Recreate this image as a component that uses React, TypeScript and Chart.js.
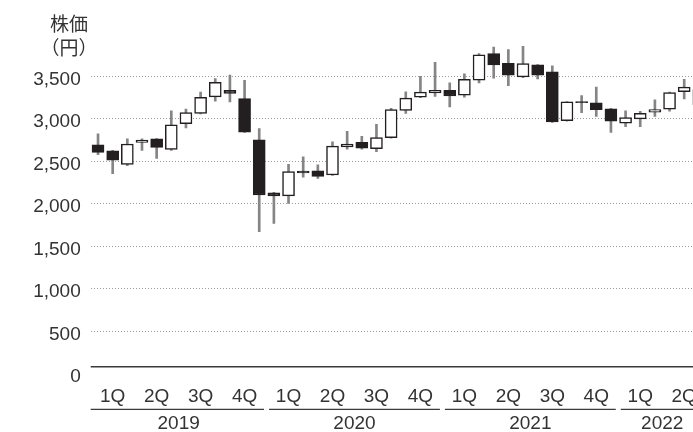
import React, { useEffect, useRef } from "react";
import { Chart, registerables } from "chart.js";

Chart.register(...registerables);

// ---- data (monthly, Jan 2019 – Jun 2022) ----
const years = ["2019", "2020", "2021", "2022"];
const quarterLabels = ["1Q", "2Q", "3Q", "4Q"];
const yTickValues = [0, 500, 1000, 1500, 2000, 2500, 3000, 3500];
const axisTitle = ["株価", "（円）"];

const openPrices = [
  2690, 2620, 2460, 2720, 2760, 2635, 2940, 3060, 3255, 3330, 3235, 2750,
  2125, 2090, 2380, 2385, 2335, 2665, 2720, 2645, 2775, 3095, 3250, 3300,
  3330, 3275, 3450, 3765, 3650, 3490, 3630, 3550, 2975, 3200, 3185, 3115,
  2945, 2995, 3075, 3110, 3315, 3340,
];
const highPrices = [
  2820, 2625, 2760, 2760, 2765, 3090, 3110, 3310, 3470, 3510, 3450, 2880,
  2130, 2460, 2550, 2455, 2725, 2850, 2790, 2930, 3120, 3315, 3495, 3660,
  3420, 3525, 3765, 3840, 3810, 3850, 3635, 3620, 3200, 3270, 3370, 3120,
  3090, 3085, 3220, 3310, 3460, 3400,
];
const lowPrices = [
  2575, 2350, 2445, 2625, 2530, 2625, 2890, 3055, 3205, 3195, 2835, 1670,
  1765, 2000, 2310, 2295, 2330, 2640, 2640, 2610, 2770, 3060, 3245, 3260,
  3135, 3250, 3420, 3475, 3385, 3480, 3465, 2955, 2970, 3070, 3025, 2835,
  2905, 2905, 3025, 3085, 3230, 3120,
];
const closePrices = [
  2600, 2510, 2700, 2745, 2660, 2925, 3070, 3250, 3425, 3295, 2840, 2100,
  2090, 2375, 2360, 2320, 2675, 2700, 2650, 2775, 3105, 3240, 3310, 3330,
  3265, 3460, 3750, 3630, 3510, 3645, 3510, 2960, 3195, 3185, 3105, 2970,
  3010, 3060, 3105, 3305, 3370, 3160,
];

const FONT = "'Liberation Sans', Arial, sans-serif";
const TEXT = "#333333";

export default function App() {
  const canvasRef = useRef<HTMLCanvasElement | null>(null);

  useEffect(() => {
    if (!canvasRef.current) return;
    const n = openPrices.length;
    const wickData = lowPrices.map((l, i) => ({ x: i, y: [l, highPrices[i]] }));
    const bodyData = openPrices.map((o, i) => ({ x: i, y: [o, closePrices[i]] }));
    const quarterTicks: number[] = [];
    for (let i = 1; i < n; i += 3) quarterTicks.push(i);

    const decorPlugin = {
      id: "decor",
      afterDraw(chart: any) {
        const { ctx, chartArea } = chart;
        const xs = chart.scales.x;
        ctx.save();
        // baseline
        ctx.strokeStyle = "#3a3a3a";
        ctx.lineWidth = 1.5;
        ctx.beginPath();
        ctx.moveTo(chartArea.left, chartArea.bottom - 6.8);
        ctx.lineTo(chartArea.right, chartArea.bottom - 6.8);
        ctx.stroke();
        // year groups
        ctx.font = `19px ${FONT}`;
        ctx.fillStyle = TEXT;
        ctx.textAlign = "center";
        ctx.textBaseline = "middle";
        years.forEach((yr, k) => {
          const idx = openPrices.map((_, i) => i).filter((i) => Math.floor(i / 12) === k);
          if (!idx.length) return;
          const f = idx[0];
          const l = idx[idx.length - 1];
          const x0 = k === 0 ? chartArea.left : xs.getPixelForValue(f - 0.5) + 2.5;
          const x1 = xs.getPixelForValue(l + 0.5) - 2.5;
          ctx.lineWidth = 1.3;
          ctx.beginPath();
          ctx.moveTo(x0, chartArea.bottom + 35.8);
          ctx.lineTo(x1, chartArea.bottom + 35.8);
          ctx.stroke();
          ctx.fillText(yr, xs.getPixelForValue((f + l) / 2), chartArea.bottom + 50);
        });
        // axis title
        ctx.font = `19px 'Noto Sans CJK JP', sans-serif`;
        ctx.fillText(axisTitle[0], 69, 23.5);
        ctx.fillText(axisTitle[1], 69, 47.5);
        ctx.restore();
      },
    };

    const chart = new Chart(canvasRef.current, {
      type: "bar",
      data: {
        datasets: [
          {
            label: "body",
            data: bodyData as any,
            grouped: false,
            order: 0,
            barThickness: 12,
            borderWidth: 1.5,
            borderSkipped: false,
            borderColor: "#231f20",
            backgroundColor: (c: any) =>
              closePrices[c.dataIndex] >= openPrices[c.dataIndex] ? "#ffffff" : "#231f20",
          } as any,
          {
            label: "wick",
            data: wickData as any,
            grouped: false,
            order: 1,
            barThickness: 2,
            borderWidth: 0,
            backgroundColor: "#858585",
          } as any,
        ],
      },
      options: {
        responsive: true,
        maintainAspectRatio: false,
        animation: false,
        layout: { padding: { top: 33.5, right: 30, left: 0, bottom: 0 } },
        plugins: { legend: { display: false }, tooltip: { enabled: false } },
        scales: {
          x: {
            type: "linear",
            offset: false,
            min: -0.5,
            max: 40.6,
            grid: { display: false },
            border: { display: false },
            afterBuildTicks: (s: any) => {
              s.ticks = quarterTicks.map((v) => ({ value: v }));
            },
            afterFit: (s: any) => {
              s.height = 58.5;
            },
            ticks: {
              autoSkip: false,
              maxRotation: 0,
              padding: 4,
              color: TEXT,
              font: { family: FONT, size: 19 },
              callback: (v: any) => quarterLabels[Math.floor(Number(v) / 3) % 4],
            },
          },
          y: {
            min: 0,
            max: 4000,
            afterBuildTicks: (s: any) => {
              s.ticks = yTickValues.map((v) => ({ value: v }));
            },
            afterFit: (s: any) => {
              s.width = 90.7;
            },
            grid: {
              drawTicks: false,
              lineWidth: 1,
              color: (c: any) => (c.tick && c.tick.value === 0 ? "rgba(0,0,0,0)" : "#9a9a9a"),
            },
            border: { display: false, dash: [1, 2] },
            ticks: {
              padding: 10,
              labelOffset: 3.5,
              color: TEXT,
              font: { family: FONT, size: 19 },
              callback: (v: any) => Number(v).toLocaleString("en-US"),
            },
          },
        },
      },
      plugins: [decorPlugin],
    });
    return () => chart.destroy();
  }, []);

  return (
    <div
      style={{
        position: "fixed",
        left: 0,
        top: 0,
        width: 693,
        height: 432,
        overflow: "hidden",
        background: "#ffffff",
      }}
    >
      <div style={{ position: "relative", width: 723, height: 432 }}>
        <canvas ref={canvasRef} />
      </div>
    </div>
  );
}
